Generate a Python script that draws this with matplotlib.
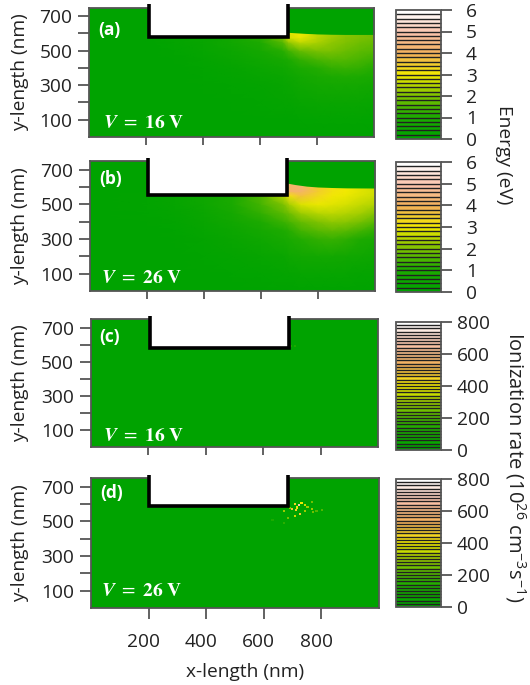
import numpy as np
import matplotlib
matplotlib.use("Agg")
import matplotlib.pyplot as plt
from matplotlib.cm import ScalarMappable
from matplotlib.colors import BoundaryNorm, LinearSegmentedColormap, Normalize
from matplotlib.patches import Rectangle
from matplotlib.transforms import ScaledTranslation

plt.rcParams["font.family"] = ["Open Sans", "DejaVu Sans"]
plt.rcParams["mathtext.fontset"] = "stix"

W, H = 530, 685
TEXT = "#222222"
SPINE = "#555555"
FS = 13.8

# nodes of the coarse grid (nm)
x_nodes = [0, 200, 300, 400, 500, 600, 680, 700, 740, 800, 850, 900, 950, 1000]
y_nodes = [0, 100, 200, 300, 350, 400, 450, 500, 550, 575, 598, 630]

# rows run from y = 0 upwards (eV)
energy_a = [
    [0, 0, 0, 0, 0, 0, 0, 0, 0, 0, 0, 0, 0, 0],
    [0, 0, 0, 0, 0, 0, 0, 0.02, 0.05, 0.08, 0.08, 0.08, 0.08, 0.05],
    [0, 0, 0, 0, 0.03, 0.08, 0.15, 0.15, 0.25, 0.3, 0.3, 0.3, 0.3, 0.25],
    [0, 0, 0, 0.03, 0.08, 0.15, 0.25, 0.3, 0.45, 0.6, 0.65, 0.65, 0.65, 0.55],
    [0, 0, 0, 0.05, 0.12, 0.25, 0.35, 0.4, 0.6, 0.8, 0.9, 0.95, 0.9, 0.8],
    [0, 0, 0.02, 0.08, 0.18, 0.35, 0.5, 0.6, 0.85, 1.05, 1.2, 1.25, 1.2, 1.05],
    [0, 0, 0.03, 0.15, 0.3, 0.5, 0.75, 0.9, 1.2, 1.45, 1.55, 1.55, 1.45, 1.3],
    [0, 0, 0.08, 0.22, 0.42, 0.7, 1.1, 1.35, 1.75, 1.95, 1.95, 1.8, 1.65, 1.55],
    [0, 0.02, 0.12, 0.28, 0.55, 0.95, 1.6, 2.2, 2.6, 2.4, 2.15, 2.0, 1.85, 1.75],
    [0, 0.05, 0.15, 0.3, 0.55, 1.1, 1.9, 2.7, 2.9, 2.5, 2.25, 2.05, 1.95, 1.85],
    [0, 0, 0, 0, 0, 0, 0, 2.8, 3.0, 2.55, 2.3, 2.1, 1.95, 1.85],
    [0, 0, 0, 0, 0, 0, 0, 2.8, 3.0, 2.55, 2.3, 2.1, 1.95, 1.85],
]
energy_b = [
    [0, 0, 0, 0, 0, 0, 0, 0, 0, 0, 0, 0, 0, 0],
    [0, 0, 0, 0, 0.05, 0.08, 0.15, 0.15, 0.2, 0.2, 0.2, 0.2, 0.15, 0.15],
    [0, 0, 0, 0.08, 0.15, 0.25, 0.35, 0.45, 0.55, 0.6, 0.6, 0.55, 0.5, 0.4],
    [0, 0, 0.03, 0.15, 0.3, 0.5, 0.75, 0.85, 1.05, 1.2, 1.25, 1.15, 0.95, 0.75],
    [0, 0, 0.05, 0.22, 0.42, 0.7, 1.0, 1.1, 1.4, 1.6, 1.7, 1.6, 1.4, 1.15],
    [0, 0.03, 0.1, 0.3, 0.55, 0.95, 1.3, 1.45, 1.75, 2.0, 2.15, 2.1, 1.9, 1.6],
    [0, 0.05, 0.15, 0.35, 0.7, 1.2, 1.65, 1.85, 2.25, 2.5, 2.55, 2.45, 2.3, 2.05],
    [0, 0.08, 0.2, 0.45, 0.85, 1.4, 2.0, 2.35, 2.8, 2.95, 2.85, 2.75, 2.6, 2.45],
    [0, 0.08, 0.25, 0.5, 0.85, 1.5, 2.5, 3.2, 3.7, 3.35, 3.05, 2.95, 2.8, 2.65],
    [0, 0, 0, 0, 0, 0, 0, 4.2, 4.2, 3.5, 3.15, 3.0, 2.85, 2.7],
    [0, 0, 0, 0, 0, 0, 0, 4.2, 4.3, 3.5, 3.15, 3.0, 2.85, 2.7],
    [0, 0, 0, 0, 0, 0, 0, 4.2, 4.3, 3.5, 3.15, 3.0, 2.85, 2.7],
]

# upper edge of the heated region right of the gate
surface_x = [690, 720, 760, 800, 850, 900, 1000]
surface_y_a = [607, 604, 600, 597, 595, 594, 594]
surface_y_b = [623, 614, 605, 600, 597, 595, 594]

# gate outline (left, right, bottom), nm
gate_a = (210, 698, 577)
gate_b = (203, 691, 555)
gate_c = (207, 690, 578)
gate_d = (200, 684, 588)

# isolated ionization specks
speck_c_x = [697, 711]
speck_c_y = [594, 594]
speck_c_v = [120, 120]
speck_d_x = [723, 708, 731, 697, 712, 726, 708, 685, 670, 743, 766, 772, 801, 783, 766, 743, 670, 630, 752, 716, 690]
speck_d_y = [594, 600, 604, 569, 565, 540, 532, 521, 561, 560, 571, 556, 565, 560, 610, 594, 492, 507, 585, 580, 575]
speck_d_v = [680, 450, 400, 500, 450, 480, 350, 250, 300, 300, 300, 250, 200, 200, 250, 350, 150, 120, 300, 420, 280]

y_ticklabels = ["100", "", "300", "", "500", "", "700"]
y_ticks = [100, 200, 300, 400, 500, 600, 700]
x_ticks = [200, 400, 600, 800]

cmap = LinearSegmentedColormap.from_list(
    "energy",
    [
        (0.0, (0.0, 0.64, 0.0)),
        (1 / 6, (0.12, 0.67, 0.0)),
        (2 / 6, (0.50, 0.76, 0.0)),
        (3 / 6, (0.95, 0.92, 0.0)),
        (4 / 6, (0.95, 0.69, 0.35)),
        (5 / 6, (0.98, 0.76, 0.66)),
        (1.0, (1.0, 1.0, 1.0)),
    ],
)


def axes_px(fig, left, right, top, bottom):
    return fig.add_axes([left / W, 1 - bottom / H, (right - left) / W, (bottom - top) / H])


def draw_panel(fig, box, gate, tag, tag_y, volt, volt_xy):
    ax = axes_px(fig, *box)
    ax.set_facecolor(cmap(0.0))
    ax.set_xlim(0, 1000)
    ax.set_ylim(0, 750)
    for s in ax.spines.values():
        s.set_color(SPINE)
        s.set_linewidth(1.3)

    ax.set_xticks(x_ticks)
    ax.set_xticklabels([])
    ax.set_yticks(y_ticks)
    ax.set_yticklabels(y_ticklabels)
    ax.tick_params(axis="y", length=8, width=1.3, color=SPINE, labelsize=FS, labelcolor=TEXT, pad=4)
    ax.tick_params(axis="x", length=6, width=1.3, color=SPINE, labelsize=FS, labelcolor=TEXT)
    ax.set_ylabel("y-length (nm)", fontsize=FS, color=TEXT)
    ax.yaxis.set_label_coords((29 - box[0]) / (box[1] - box[0]), 0.5)

    left, right, bottom = gate
    ax.add_patch(Rectangle((left, bottom), right - left, 790 - bottom, fc="white", ec="none",
                           zorder=3, clip_on=False))
    ax.plot([left, left, right, right], [770, bottom, bottom, 770], color="black", lw=2.6,
            solid_joinstyle="miter", solid_capstyle="butt", zorder=4, clip_on=False)

    ax.text(0.032, tag_y, tag, transform=ax.transAxes, color="white", fontsize=12.5,
            fontweight="bold", va="center", ha="left", zorder=5)
    ax.text(volt_xy[0], volt_xy[1], r"$\mathbfit{V}\ =\ \mathbf{%s\ V}$" % volt, transform=ax.transAxes,
            color="white", fontsize=14, va="center", ha="left", zorder=5)
    return ax


def draw_cbar(fig, box, vmax, n_bands, ticks, pad):
    cax = axes_px(fig, *box)
    levels = np.linspace(0, vmax, n_bands + 1)
    sm = ScalarMappable(norm=BoundaryNorm(levels, 256), cmap=cmap)
    cb = fig.colorbar(sm, cax=cax, drawedges=True, ticks=ticks, spacing="proportional")
    cb.dividers.set_color("#222222")
    cb.dividers.set_linewidth(1.0)
    cb.outline.set_edgecolor(SPINE)
    cb.outline.set_linewidth(1.3)
    cax.minorticks_off()
    cax.tick_params(axis="y", length=8, width=1.3, color=SPINE, labelsize=FS, labelcolor=TEXT, pad=pad)
    return cb


def main():
    fig = plt.figure(figsize=(W / 100, H / 100), dpi=100)

    energy_norm = Normalize(0, 6)
    rate_norm = Normalize(0, 800)

    ax_a = draw_panel(fig, (89, 374, 7.5, 137), gate_a, "(a)", 0.83, "16", (0.05, 0.11))
    ax_a.pcolormesh(x_nodes, y_nodes, np.array(energy_a), cmap=cmap, norm=energy_norm, shading="gouraud", zorder=1)
    ax_a.fill_between(surface_x, surface_y_a, 760, color=cmap(0.0), lw=0, zorder=2)

    ax_b = draw_panel(fig, (90, 375, 161, 291), gate_b, "(b)", 0.86, "26", (0.037, 0.10))
    ax_b.pcolormesh(x_nodes, y_nodes, np.array(energy_b), cmap=cmap, norm=energy_norm, shading="gouraud", zorder=1)
    ax_b.fill_between(surface_x, surface_y_b, 760, color=cmap(0.0), lw=0, zorder=2)

    ax_c = draw_panel(fig, (90.5, 378, 319, 447), gate_c, "(c)", 0.86, "16", (0.045, 0.085))
    ax_c.scatter(speck_c_x, speck_c_y, c=speck_c_v, cmap=cmap, norm=rate_norm, s=2, marker="s", lw=0, zorder=2)

    ax_d = draw_panel(fig, (91, 379, 478, 608), gate_d, "(d)", 0.885, "26", (0.035, 0.13))
    ax_d.scatter(speck_d_x, speck_d_y, c=speck_d_v, cmap=cmap, norm=rate_norm, s=2.5, marker="s", lw=0, zorder=2)

    # x labels sit a little left of their ticks in the original
    ax_d.set_xticklabels([str(t) for t in x_ticks])
    ax_d.tick_params(axis="x", length=8, pad=10)
    shift = ScaledTranslation(-5 / 100, 0, fig.dpi_scale_trans)
    for lab in ax_d.get_xticklabels():
        lab.set_transform(lab.get_transform() + shift)
    ax_d.set_xlabel("x-length (nm)", fontsize=FS, color=TEXT)
    ax_d.xaxis.set_label_coords(0.535, -0.42)

    draw_cbar(fig, (396, 441, 10, 139), 6, 30, [0, 1, 2, 3, 4, 5, 6], 10)
    draw_cbar(fig, (396, 441, 162, 292), 6, 30, [0, 1, 2, 3, 4, 5, 6], 10)
    draw_cbar(fig, (396, 441, 322, 450), 800, 40, [0, 200, 400, 600, 800], 3.5)
    draw_cbar(fig, (396, 441, 479, 607), 800, 40, [0, 200, 400, 600, 800], 3.5)

    fig.text(504 / W, 1 - 155 / H, "Energy (eV)", rotation=270, fontsize=FS, color=TEXT, ha="center", va="center")
    fig.text(515 / W, 1 - 467 / H, r"Ionization rate ($\mathregular{10^{26}\ cm^{-3}s^{-1}}$)", rotation=270,
             fontsize=14.5, color=TEXT, ha="center", va="center")

    fig.savefig("out.png", dpi=100)
    plt.close(fig)


if __name__ == "__main__":
    main()
